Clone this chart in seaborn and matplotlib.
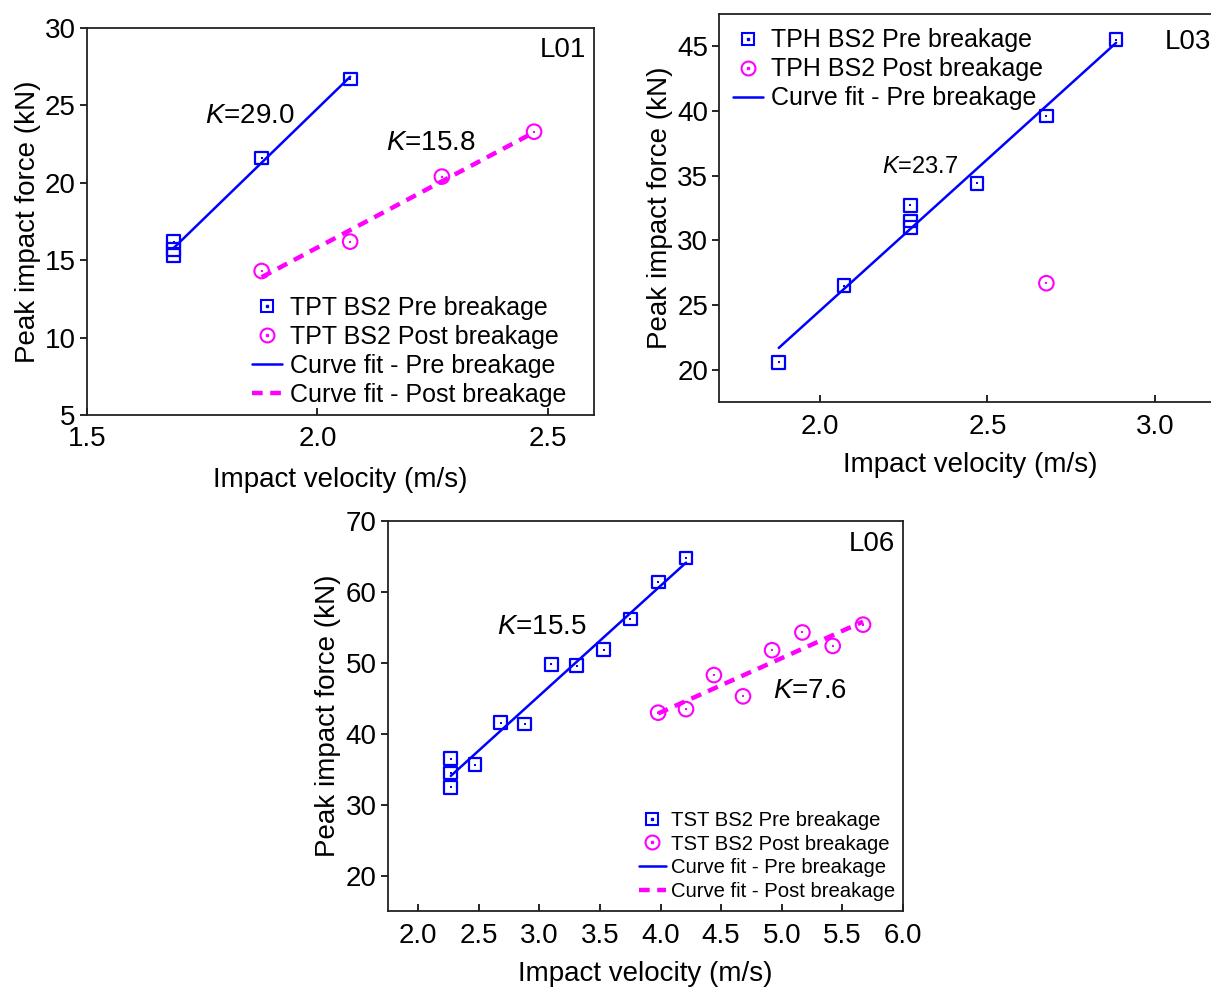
import numpy as np
import pandas as pd
import matplotlib
matplotlib.use("Agg")
import matplotlib.pyplot as plt
import seaborn as sns
from matplotlib.lines import Line2D
from matplotlib.legend_handler import HandlerTuple

# ---------------- data ----------------
l01_pre_v = [1.688, 1.688, 1.688, 1.879, 2.071]
l01_pre_f = [16.2, 15.7, 15.3, 21.6, 26.7]
l01_post_v = [1.879, 2.071, 2.270, 2.470]
l01_post_f = [14.3, 16.2, 20.4, 23.3]

l03_pre_v = [1.877, 2.072, 2.270, 2.270, 2.270, 2.469, 2.676, 2.884]
l03_pre_f = [20.6, 26.5, 32.7, 31.5, 31.0, 34.4, 39.6, 45.5]
l03_post_v = [2.676]
l03_post_f = [26.7]

l06_pre_v = [2.27, 2.27, 2.27, 2.47, 2.68, 2.88, 3.10, 3.31, 3.53, 3.75, 3.98, 4.21]
l06_pre_f = [36.5, 34.5, 32.5, 35.7, 41.6, 41.4, 49.8, 49.6, 51.9, 56.2, 61.4, 64.8]
l06_post_v = [3.98, 4.21, 4.44, 4.68, 4.92, 5.17, 5.42, 5.67]
l06_post_f = [43.0, 43.5, 48.3, 45.3, 51.8, 54.3, 52.4, 55.4]

k_labels = {"L01": ["29.0", "15.8"], "L03": ["23.7"], "L06": ["15.5", "7.6"]}
xticks = {"L01": [1.5, 2.0, 2.5], "L03": [2.0, 2.5, 3.0],
          "L06": [2.0, 2.5, 3.0, 3.5, 4.0, 4.5, 5.0, 5.5, 6.0]}
yticks = {"L01": [5, 10, 15, 20, 25, 30], "L03": [20, 25, 30, 35, 40, 45],
          "L06": [20, 30, 40, 50, 60, 70]}

# ---------------- style ----------------
sns.set_style("ticks")
plt.rcParams["font.family"] = ["Liberation Sans", "DejaVu Sans"]
plt.rcParams["mathtext.fontset"] = "custom"
plt.rcParams["mathtext.it"] = "Liberation Sans:italic"
plt.rcParams["mathtext.rm"] = "Liberation Sans"
plt.rcParams["text.color"] = "black"
plt.rcParams["axes.labelcolor"] = "black"
plt.rcParams["xtick.color"] = "black"
plt.rcParams["ytick.color"] = "black"

BLUE = "#0000FF"
MAG = "#FF00FF"
DASH = (0, (2.4, 1.7))

fig = plt.figure(figsize=(12.11, 9.89), dpi=100)
ax1 = fig.add_axes([0.0718, 0.5804, 0.4187, 0.3913])
ax2 = fig.add_axes([0.5941, 0.5931, 0.4149, 0.3931])
ax3 = fig.add_axes([0.3202, 0.0784, 0.4255, 0.3948])


def scatter(ax, x, y, marker, color, size, lw):
    sns.scatterplot(x=x, y=y, ax=ax, marker=marker, s=size, facecolor="none",
                    edgecolor=color, linewidth=lw, zorder=3)
    sns.scatterplot(x=x, y=y, ax=ax, marker="s", s=4, color=color,
                    linewidth=0, zorder=4)


def fit(ax, x, y, color, dashed=False):
    kws = dict(color=color, lw=3.2 if dashed else 1.8, zorder=2)
    if dashed:
        kws["ls"] = DASH
    sns.regplot(x=np.array(x), y=np.array(y), ax=ax, scatter=False, ci=None,
                line_kws=kws, truncate=True)


def style_axes(ax, key, xlim, ylim, xpad=11):
    ax.set_xlim(*xlim)
    ax.set_ylim(*ylim)
    ax.set_xticks(xticks[key])
    ax.set_xticklabels([f"{v:.1f}" for v in xticks[key]])
    ax.set_yticks(yticks[key])
    ax.set_yticklabels([str(v) for v in yticks[key]])
    ax.tick_params(axis="x", direction="in", length=5, width=1.2, labelsize=20,
                   pad=8, colors="black")
    ax.tick_params(axis="y", direction="out", length=5, width=1.2, labelsize=20,
                   pad=3, colors="black")
    for s in ax.spines.values():
        s.set_visible(True)
        s.set_color("#222222")
        s.set_linewidth(1.3)
    ax.set_xlabel("Impact velocity (m/s)", fontsize=20, labelpad=xpad)
    ax.set_ylabel("Peak impact force (kN)", fontsize=20, labelpad=3)


def legend(ax, prefix, with_post_fit, fontsize, loc, anchor, hl, htp, ls):
    sq = (Line2D([], [], marker="s", ms=9, mfc="none", mec=BLUE, mew=1.5, ls=""),
          Line2D([], [], marker="s", ms=2, color=BLUE, ls=""))
    ci = (Line2D([], [], marker="o", ms=10, mfc="none", mec=MAG, mew=1.5, ls=""),
          Line2D([], [], marker="s", ms=2, color=MAG, ls=""))
    handles = [sq, ci, Line2D([], [], color=BLUE, lw=1.8)]
    labels = [f"{prefix} BS2 Pre breakage", f"{prefix} BS2 Post breakage",
              "Curve fit - Pre breakage"]
    if with_post_fit:
        handles.append(Line2D([], [], color=MAG, lw=3.2, ls=DASH))
        labels.append("Curve fit - Post breakage")
    ax.legend(handles, labels, loc=loc, bbox_to_anchor=anchor, frameon=False,
              fontsize=fontsize, handlelength=hl, handletextpad=htp,
              labelspacing=ls, borderpad=0, borderaxespad=0,
              handler_map={tuple: HandlerTuple(ndivide=1, pad=0)})


# ---------------- L01 ----------------
fit(ax1, l01_pre_v, l01_pre_f, BLUE)
fit(ax1, l01_post_v, l01_post_f, MAG, dashed=True)
scatter(ax1, l01_pre_v, l01_pre_f, "s", BLUE, 85, 1.6)
scatter(ax1, l01_post_v, l01_post_f, "o", MAG, 110, 1.5)
style_axes(ax1, "L01", (1.5, 2.6), (5, 30), xpad=11)
ax1.text(1.854, 24.3, r"$K$=" + k_labels["L01"][0], fontsize=20, ha="center", va="center")
ax1.text(2.246, 22.6, r"$K$=" + k_labels["L01"][1], fontsize=20, ha="center", va="center")
ax1.text(0.985, 0.978, "L01", transform=ax1.transAxes, fontsize=20, ha="right", va="top")
legend(ax1, "TPT", True, 18, "lower right", (0.945, 0.02), 1.2, 0.3, 0.2)

# ---------------- L03 ----------------
fit(ax2, l03_pre_v, l03_pre_f, BLUE)
scatter(ax2, l03_pre_v, l03_pre_f, "s", BLUE, 85, 1.6)
scatter(ax2, l03_post_v, l03_post_f, "o", MAG, 110, 1.5)
style_axes(ax2, "L03", (1.7, 3.2), (17.5, 47.5), xpad=9)
ax2.text(2.30, 35.7, r"$K$=" + k_labels["L03"][0], fontsize=17, ha="center", va="center")
ax2.text(3.03, 45.3, "L03", fontsize=20, ha="left", va="center")
legend(ax2, "TPH", False, 18, "upper left", (0.027, 0.962), 1.2, 0.3, 0.2)

# ---------------- L06 ----------------
fit(ax3, l06_pre_v, l06_pre_f, BLUE)
fit(ax3, l06_post_v, l06_post_f, MAG, dashed=True)
scatter(ax3, l06_pre_v, l06_pre_f, "s", BLUE, 85, 1.6)
scatter(ax3, l06_post_v, l06_post_f, "o", MAG, 110, 1.5)
style_axes(ax3, "L06", (1.75, 6.0), (15, 70), xpad=9)
ax3.text(3.02, 55.1, r"$K$=" + k_labels["L06"][0], fontsize=20, ha="center", va="center")
ax3.text(5.23, 46.1, r"$K$=" + k_labels["L06"][1], fontsize=20, ha="center", va="center")
ax3.text(0.985, 0.975, "L06", transform=ax3.transAxes, fontsize=20, ha="right", va="top")
legend(ax3, "TST", True, 14.6, "lower right", (0.984, 0.027), 1.33, 0.25, 0.23)

fig.savefig("out.png", dpi=100, facecolor="white")
